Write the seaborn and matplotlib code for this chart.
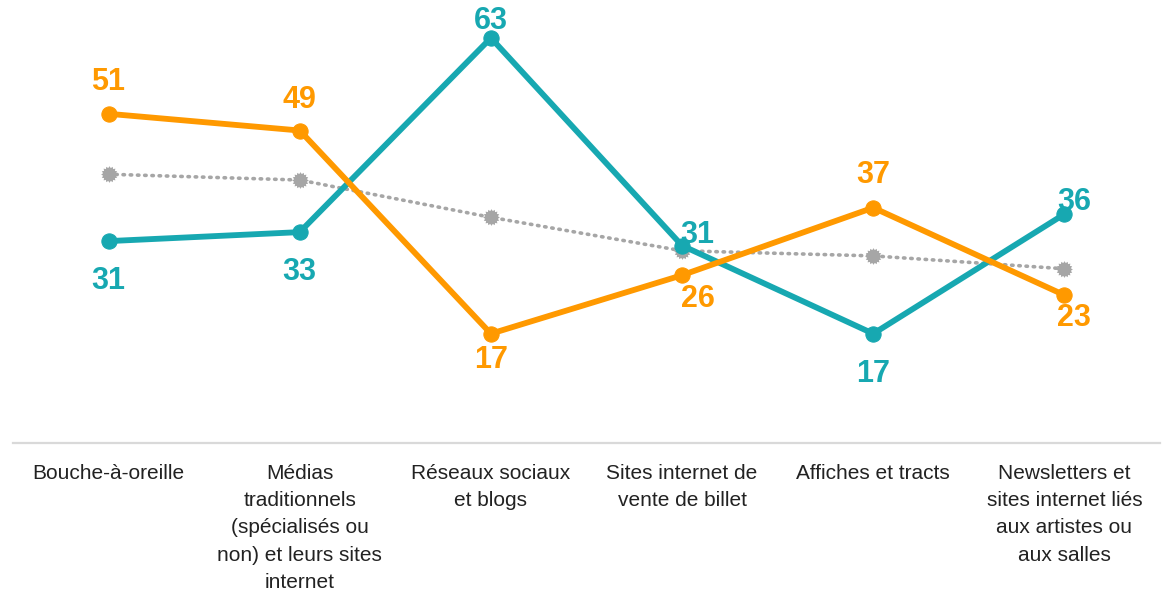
import numpy as np
import pandas as pd
import matplotlib
matplotlib.use("Agg")
import matplotlib.pyplot as plt
import seaborn as sns

# --- data ---
categories = [
    "Bouche-à-oreille",
    "Médias\ntraditionnels\n(spécialisés ou\nnon) et leurs sites\ninternet",
    "Réseaux sociaux\net blogs",
    "Sites internet de\nvente de billet",
    "Affiches et tracts",
    "Newsletters et\nsites internet liés\naux artistes ou\naux salles",
]
orange_vals = [51.2, 48.6, 17.0, 26.1, 36.6, 23.0]
teal_vals = [31.4, 32.8, 63.0, 30.7, 17.0, 35.6]
gray_vals = [41.8, 40.9, 35.1, 29.9, 29.1, 27.1]

ORANGE = "#FF9900"
TEAL = "#17A8B1"
GRAY = "#A6A6A6"

# label offsets in pixels (dx, dy) relative to each point
orange_offsets = [(0, 32), (0, 31), (0, -26), (16, -24), (0, 33), (10, -23)]
teal_offsets = [(0, -40), (0, -40), (0, 17), (15, 11), (0, -40), (10, 12)]

# gear-like marker (Excel marker with dotted outline)
ang = np.linspace(0, 2 * np.pi, 33)[:-1]
rad = np.where(np.arange(32) % 2 == 0, 1.0, 0.78)
gear = np.column_stack([rad * np.cos(ang), rad * np.sin(ang)])

sns.set_theme(style="white")
plt.rcParams["font.family"] = ["Liberation Sans", "DejaVu Sans"]

fig = plt.figure(figsize=(11.63, 5.93), dpi=100)
ax = fig.add_axes([13 / 1163, 150 / 593, 1147 / 1163, 443 / 593])

df = pd.DataFrame({"cat": categories, "orange": orange_vals,
                   "teal": teal_vals, "gray": gray_vals})

sns.lineplot(data=df, x="cat", y="gray", sort=False, ax=ax, color=GRAY,
             linewidth=2.6, linestyle=(0, (0.4, 1.6)), dash_capstyle="round",
             marker=gear, markersize=12, markeredgewidth=0,
             markerfacecolor=GRAY, zorder=2)
sns.lineplot(data=df, x="cat", y="teal", sort=False, ax=ax, color=TEAL,
             linewidth=4.2, marker="o", markersize=11,
             markeredgecolor=TEAL, zorder=3)
sns.lineplot(data=df, x="cat", y="orange", sort=False, ax=ax, color=ORANGE,
             linewidth=4.2, marker="o", markersize=11,
             markeredgecolor=ORANGE, zorder=4)

for i, (v, off) in enumerate(zip(orange_vals, orange_offsets)):
    ax.annotate(f"{v:.0f}", (i, v), xytext=(off[0] * 0.72, off[1] * 0.72),
                textcoords="offset points", ha="center", va="center",
                fontsize=22, fontweight="bold", color=ORANGE)
for i, (v, off) in enumerate(zip(teal_vals, teal_offsets)):
    ax.annotate(f"{v:.0f}", (i, v), xytext=(off[0] * 0.72, off[1] * 0.72),
                textcoords="offset points", ha="center", va="center",
                fontsize=22, fontweight="bold", color=TEAL)

ax.set_xlim(-0.5, len(categories) - 0.5)
ax.set_ylim(0, 68.9)
ax.set_xlabel("")
ax.set_ylabel("")
ax.set_yticks([])
ax.set_xticks(range(len(categories)))
ax.set_xticklabels(categories, fontsize=15, linespacing=1.55, color="#222222")
ax.tick_params(axis="x", length=0, pad=15)

for side in ["top", "right", "left"]:
    ax.spines[side].set_visible(False)
ax.spines["bottom"].set_color("#D9D9D9")
ax.spines["bottom"].set_linewidth(1.6)

fig.savefig("out.png", dpi=100)
